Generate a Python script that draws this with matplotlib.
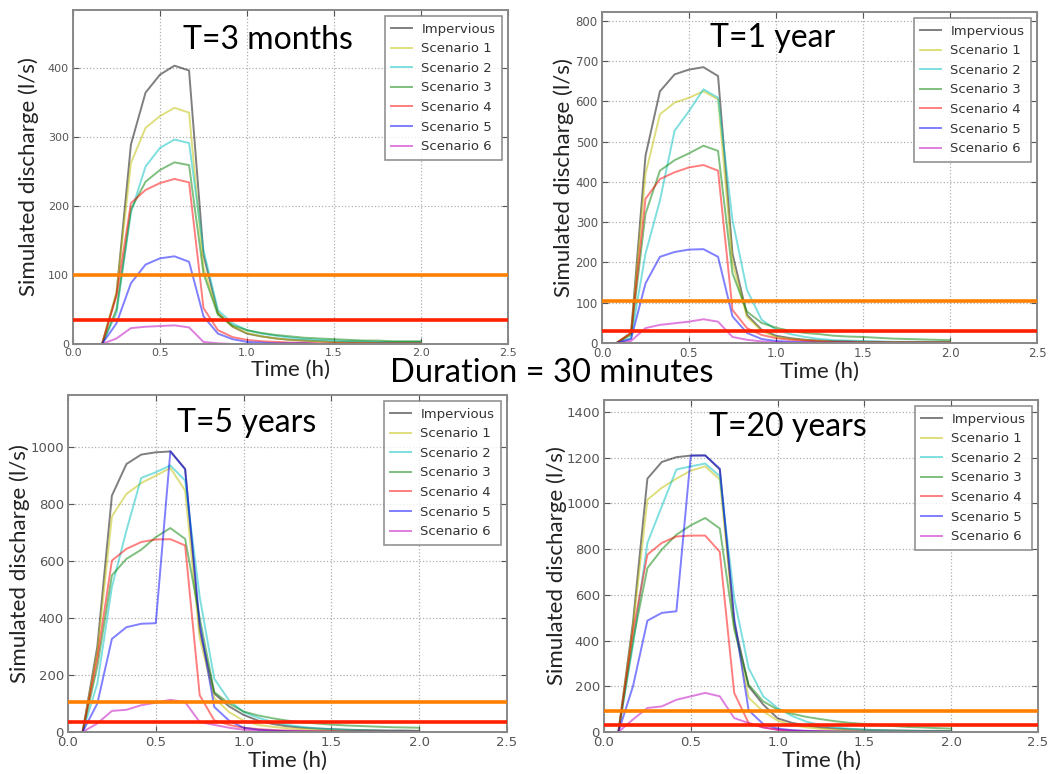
import matplotlib
matplotlib.use("Agg")
import matplotlib.pyplot as plt

# ---------------- data ----------------
times = [0.0, 0.083, 0.167, 0.25, 0.333, 0.417, 0.5, 0.583, 0.667, 0.75, 0.833, 0.917,
         1.0, 1.083, 1.167, 1.25, 1.333, 1.417, 1.5, 1.583, 1.667, 1.75, 1.833, 1.917, 2.0]

series_names = ["Impervious", "Scenario 1", "Scenario 2", "Scenario 3",
                "Scenario 4", "Scenario 5", "Scenario 6"]

# T = 3 months
p1_imp = [0, 0, 0, 73, 289, 364, 390, 403, 396, 129, 45, 25, 15, 11, 8, 6, 5, 4, 3, 3, 2, 2, 2, 2, 2]
p1_s1 = [0, 0, 0, 75, 262, 313, 330, 342, 335, 110, 45, 25, 16, 11, 8, 6, 5, 4, 3, 3, 2, 2, 2, 2, 2]
p1_s2 = [0, 0, 0, 45, 190, 257, 284, 296, 291, 136, 49, 30, 20, 15, 12, 9, 7, 6, 5, 4, 4, 3, 3, 3, 3]
p1_s3 = [0, 0, 0, 50, 195, 235, 252, 263, 259, 102, 42, 27, 20, 16, 13, 11, 9, 8, 7, 6, 5, 5, 4, 4, 4]
p1_s4 = [0, 0, 0, 70, 204, 223, 233, 239, 234, 52, 20, 10, 6, 4, 3, 2, 2, 1, 1, 1, 1, 1, 1, 1, 1]
p1_s5 = [0, 0, 0, 30, 88, 115, 124, 127, 119, 40, 15, 7, 3, 2, 1, 1, 1, 0, 0, 0, 0, 0, 0, 0, 0]
p1_s6 = [0, 0, 0, 8, 23, 25, 26, 27, 24, 3, 1, 0, 0, 0, 0, 0, 0, 0, 0, 0, 0, 0, 0, 0, 0]

# T = 1 year
p2_imp = [0, 0, 25, 465, 625, 667, 679, 685, 663, 222, 70, 33, 18, 12, 8, 6, 5, 4, 3, 3, 2, 2, 2, 2, 2]
p2_s1 = [0, 0, 25, 420, 568, 597, 609, 625, 605, 200, 65, 30, 15, 10, 7, 5, 4, 3, 3, 2, 2, 2, 2, 2, 2]
p2_s2 = [0, 0, 12, 222, 354, 527, 576, 630, 609, 305, 132, 58, 33, 22, 15, 10, 7, 6, 5, 4, 3, 3, 3, 3, 3]
p2_s3 = [0, 0, 20, 321, 428, 454, 471, 490, 477, 173, 78, 50, 38, 30, 25, 22, 18, 16, 15, 13, 11, 10, 9, 8, 7]
p2_s4 = [0, 0, 25, 358, 407, 424, 436, 442, 428, 82, 37, 20, 12, 8, 6, 4, 3, 3, 2, 2, 2, 2, 2, 2, 2]
p2_s5 = [0, 0, 10, 148, 214, 226, 232, 233, 214, 66, 25, 10, 5, 3, 2, 1, 1, 1, 0, 0, 0, 0, 0, 0, 0]
p2_s6 = [0, 0, 5, 37, 45, 49, 53, 59, 53, 15, 8, 4, 2, 1, 1, 0, 0, 0, 0, 0, 0, 0, 0, 0, 0]

# T = 5 years
p3_imp = [0, 0, 300, 830, 941, 974, 982, 985, 924, 357, 135, 90, 60, 40, 28, 20, 15, 12, 10, 8, 7, 6, 5, 5, 4]
p3_s1 = [0, 0, 280, 757, 836, 874, 900, 927, 848, 330, 120, 70, 40, 25, 18, 13, 10, 8, 6, 5, 4, 4, 3, 3, 3]
p3_s2 = [0, 0, 170, 509, 708, 892, 912, 936, 883, 474, 187, 111, 70, 50, 35, 25, 18, 13, 10, 8, 6, 5, 4, 4, 3]
p3_s3 = [0, 0, 230, 550, 608, 640, 684, 716, 678, 400, 140, 100, 72, 58, 48, 40, 34, 30, 26, 23, 21, 19, 17, 16, 15]
p3_s4 = [0, 0, 260, 602, 643, 667, 676, 677, 655, 129, 41, 25, 15, 10, 7, 5, 4, 3, 3, 2, 2, 2, 2, 2, 2]
p3_s5 = [0, 0, 100, 327, 368, 380, 382, 986, 922, 380, 88, 40, 15, 8, 5, 3, 2, 1, 1, 1, 1, 1, 1, 1, 1]
p3_s6 = [0, 0, 30, 74, 78, 94, 103, 113, 105, 35, 25, 15, 8, 5, 3, 2, 1, 1, 0, 0, 0, 0, 0, 0, 0]

# T = 20 years
p4_imp = [0, 0, 480, 1108, 1181, 1202, 1209, 1210, 1148, 480, 200, 120, 60, 40, 28, 20, 15, 12, 10, 8, 7, 6, 5, 5, 4]
p4_s1 = [0, 0, 460, 1016, 1068, 1108, 1143, 1162, 1104, 470, 150, 90, 50, 30, 20, 14, 10, 8, 6, 5, 4, 4, 3, 3, 3]
p4_s2 = [0, 0, 380, 827, 987, 1148, 1162, 1174, 1119, 586, 280, 156, 105, 70, 45, 30, 20, 14, 10, 8, 6, 5, 4, 4, 3]
p4_s3 = [0, 0, 400, 717, 798, 863, 904, 936, 890, 450, 207, 134, 98, 80, 66, 56, 47, 40, 35, 30, 26, 22, 20, 17, 15]
p4_s4 = [0, 0, 440, 776, 827, 855, 859, 859, 788, 171, 39, 20, 10, 6, 4, 3, 2, 2, 1, 1, 1, 1, 1, 1, 1]
p4_s5 = [0, 0, 200, 487, 521, 528, 1209, 1209, 1152, 500, 95, 35, 15, 8, 5, 3, 2, 1, 1, 1, 1, 1, 1, 1, 1]
p4_s6 = [0, 0, 55, 105, 112, 141, 156, 171, 156, 61, 39, 20, 10, 5, 3, 2, 1, 1, 0, 0, 0, 0, 0, 0, 0]

panel_titles = ["T=3 months", "T=1 year", "T=5 years", "T=20 years"]
orange_levels = [100, 104, 106, 92]
red_levels = [35, 30, 34, 30]

x_ticks = [0.0, 0.5, 1.0, 1.5, 2.0, 2.5]
y_ticks = [[0, 100, 200, 300, 400],
           [0, 100, 200, 300, 400, 500, 600, 700, 800],
           [0, 200, 400, 600, 800, 1000],
           [0, 200, 400, 600, 800, 1000, 1200, 1400]]

panels = [
    [p1_imp, p1_s1, p1_s2, p1_s3, p1_s4, p1_s5, p1_s6],
    [p2_imp, p2_s1, p2_s2, p2_s3, p2_s4, p2_s5, p2_s6],
    [p3_imp, p3_s1, p3_s2, p3_s3, p3_s4, p3_s5, p3_s6],
    [p4_imp, p4_s1, p4_s2, p4_s3, p4_s4, p4_s5, p4_s6],
]

# ---------------- style / layout ----------------
W, H = 1049, 774
line_colors = ["k", "y", "c", "g", "r", "b", "m"]
# axes boxes in pixels: left, top, right, bottom
boxes = [(73, 10, 508, 344), (602, 12, 1037, 343), (68, 395, 507, 732), (604, 400, 1038, 732)]
title_pos = [(0.448, 0.91), (0.393, 0.92), (0.408, 0.917), (0.424, 0.919)]
ylabel_x_px = [39, 574, 30, 567]
tick_sizes = [8, 8.5, 9.5, 9.5]

fig = plt.figure(figsize=(W / 100, H / 100), dpi=100)
fig.patch.set_facecolor("white")

for i in range(4):
    l, t, r, b = boxes[i]
    ax = fig.add_axes([l / W, (H - b) / H, (r - l) / W, (b - t) / H])
    data = panels[i]
    for name, col, vals in zip(series_names, line_colors, data):
        ax.plot(times, vals, color=col, alpha=0.5, lw=1.4, label=name)
    ax.axhline(orange_levels[i], color="#ff8000", lw=2.6, zorder=5)
    ax.axhline(red_levels[i], color="#ff2000", lw=2.6, zorder=5)
    ymax = 1.2 * max(max(v) for v in data)
    ax.set_xlim(0, 2.5)
    ax.set_ylim(0, ymax)
    ax.set_xticks(x_ticks)
    ax.set_yticks(y_ticks[i])
    ax.set_xticklabels([f"{v:.1f}" for v in x_ticks])
    ax.grid(True, linestyle=":", color="#b0b0b0", lw=0.9)
    ax.tick_params(direction="in", top=True, right=True, labelsize=tick_sizes[i],
                   colors="#555555", length=4, width=0.8, pad=3)
    for sp in ax.spines.values():
        sp.set_color("#888888")
        sp.set_linewidth(1.4)
    ax.set_xlabel("Time (h)", fontsize=16, family="Lato", color="#222222", labelpad=1)
    ax.set_ylabel("Simulated discharge (l/s)", fontsize=16, family="Lato", color="#222222")
    ax.yaxis.set_label_coords((ylabel_x_px[i] - l) / (r - l), 0.5)
    ax.text(title_pos[i][0], title_pos[i][1], panel_titles[i], transform=ax.transAxes,
            ha="center", va="center", fontsize=23, family="Lato", color="black")
    leg = ax.legend(loc="upper right", fontsize=9.5, frameon=True, fancybox=False,
                    handlelength=1.6, labelspacing=0.5, borderaxespad=0.45,
                    borderpad=0.5, handletextpad=0.7)
    leg.get_frame().set_edgecolor("#777777")
    leg.get_frame().set_linewidth(1.2)
    for txt in leg.get_texts():
        txt.set_color("#333333")

fig.text(552 / W, (H - 373) / H, "Duration = 30 minutes", ha="center", va="center",
         fontsize=23.5, family="Lato", color="black")

fig.savefig("out.png", dpi=100)
